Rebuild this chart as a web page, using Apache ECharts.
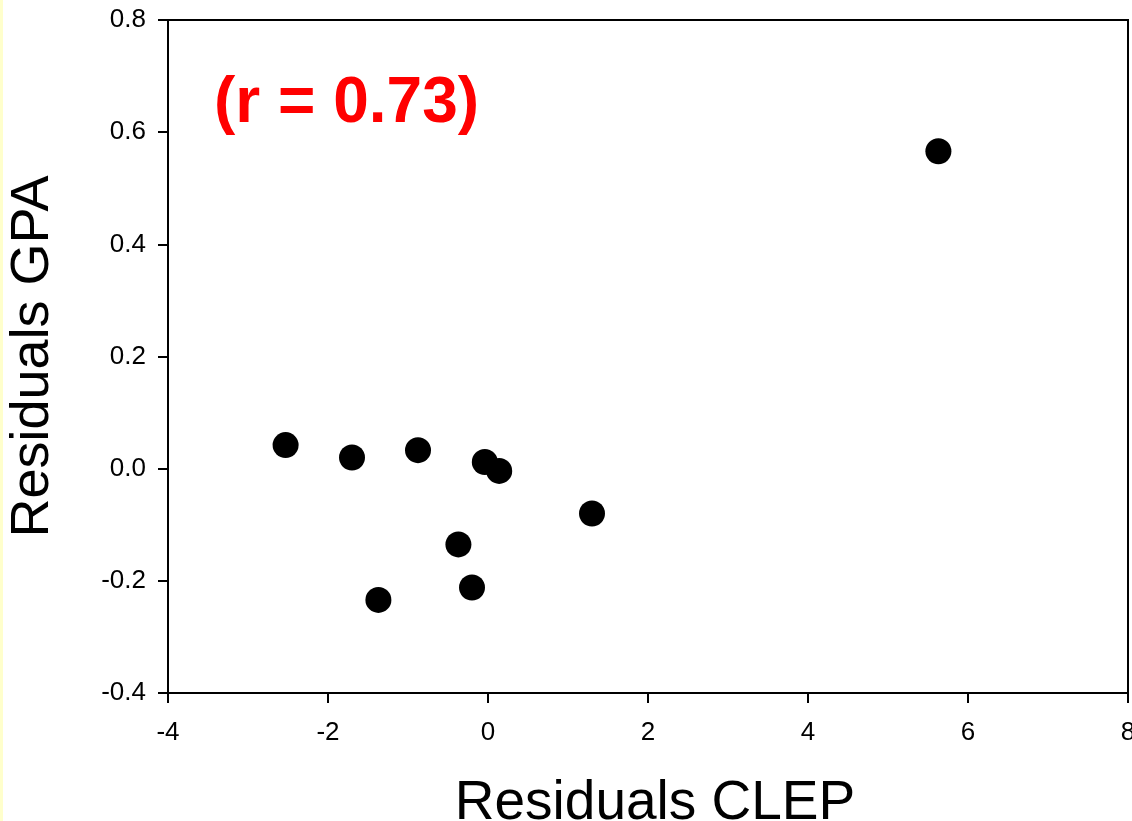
<!DOCTYPE html>
<html>
<head>
<meta charset="utf-8">
<script src="https://cdn.jsdelivr.net/npm/echarts@6/dist/echarts.min.js"></script>
<style>
html,body{margin:0;padding:0;background:#fff;}
#chart{width:1132px;height:821px;}
#strip{position:absolute;left:0;top:0;width:3px;height:821px;background:#ffffcc;z-index:10;}
</style>
</head>
<body>
<div id="chart"></div>
<div id="strip"></div>
<script>
// Data
const clepResiduals = [5.63, -2.53, -1.70, -0.875, -0.04, 0.14, 1.30, -0.37, -0.20, -1.37];
const gpaResiduals  = [0.566, 0.042, 0.020, 0.033, 0.012, -0.004, -0.080, -0.135, -0.212, -0.234];
const xTicks = { min: -4, max: 8, interval: 2 };
const yTicks = { min: -0.4, max: 0.8, interval: 0.2 };
const xTitle = 'Residuals CLEP';
const yTitle = 'Residuals GPA';
const annotation = '(r = 0.73)';

const points = clepResiduals.map((x, i) => [x, gpaResiduals[i]]);
const font = '"Liberation Sans", Arial, sans-serif';

const chart = echarts.init(document.getElementById('chart'), null, { renderer: 'canvas' });
chart.setOption({
  animation: false,
  backgroundColor: '#fff',
  title: {
    text: annotation,
    left: 214,
    top: 72,
    padding: 0,
    textStyle: { color: '#ff0000', fontSize: 64, fontWeight: 'bold', fontFamily: font }
  },
  grid: {
    left: 168, right: 4, top: 20, bottom: 128,
    outerBoundsMode: 'none',
    containLabel: false,
    show: true, borderColor: '#000', borderWidth: 2, backgroundColor: 'transparent'
  },
  xAxis: {
    type: 'value',
    min: xTicks.min, max: xTicks.max, interval: xTicks.interval,
    name: xTitle,
    nameLocation: 'middle',
    nameGap: 83,
    nameTextStyle: { fontSize: 55, fontFamily: font, color: '#000', padding: [0, 0, 0, 14] },
    axisLine: { show: true, onZero: false, lineStyle: { color: '#000', width: 2 } },
    axisTick: { show: true, inside: false, length: 10, lineStyle: { color: '#000', width: 2 } },
    axisLabel: {
      margin: 27, fontSize: 26, color: '#000', fontFamily: font,
      showMinLabel: true, showMaxLabel: true, hideOverlap: false,
      formatter: v => String(Math.round(v))
    },
    splitLine: { show: false }
  },
  yAxis: {
    type: 'value',
    min: yTicks.min, max: yTicks.max, interval: yTicks.interval,
    name: yTitle,
    nameLocation: 'middle',
    nameGap: 108,
    nameRotate: 90,
    nameTextStyle: { fontSize: 54, fontFamily: font, color: '#000' },
    axisLine: { show: true, onZero: false, lineStyle: { color: '#000', width: 2 } },
    axisTick: { show: true, inside: false, length: 10, lineStyle: { color: '#000', width: 2 } },
    axisLabel: {
      margin: 22, fontSize: 26, color: '#000', fontFamily: font,
      showMinLabel: true, showMaxLabel: true, hideOverlap: false,
      formatter: v => v.toFixed(1)
    },
    splitLine: { show: false }
  },
  series: [{
    type: 'scatter',
    data: points,
    symbol: 'circle',
    symbolSize: 26,
    itemStyle: { color: '#000', opacity: 1 },
    clip: false
  }]
});
</script>
</body>
</html>
